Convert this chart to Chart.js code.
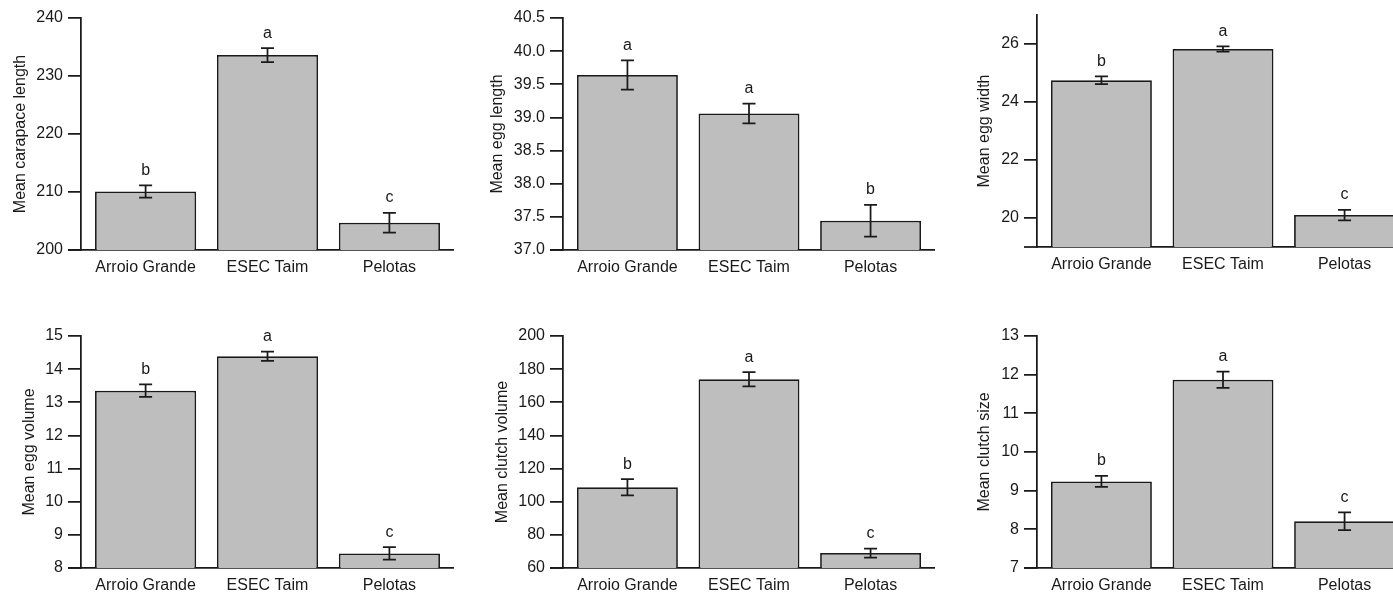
<!DOCTYPE html>
<html>
<head>
<meta charset="utf-8">
<script src="https://cdn.jsdelivr.net/npm/chart.js@4.4.1/dist/chart.umd.min.js"></script>
<style>
  html, body { margin: 0; padding: 0; background: #fff; overflow: hidden; width: 1393px; height: 596px; }
  canvas { position: absolute; }
</style>
</head>
<body>
<canvas id="c0"></canvas>
<canvas id="c1"></canvas>
<canvas id="c2"></canvas>
<canvas id="c3"></canvas>
<canvas id="c4"></canvas>
<canvas id="c5"></canvas>
<script>
// sites on the x axis
var sites = ["Arroio Grande", "ESEC Taim", "Pelotas"];

// mean, standard error, letters, y ticks for each panel
var carapaceMean = [210.1, 233.6, 204.7];
var carapaceSE = [1.05, 1.2, 1.7];
var carapaceLetters = ["b", "a", "c"];
var carapaceTicks = [200, 210, 220, 230, 240];

var eggLengthMean = [39.64, 39.06, 37.44];
var eggLengthSE = [0.22, 0.15, 0.24];
var eggLengthLetters = ["a", "a", "b"];
var eggLengthTicks = [37.0, 37.5, 38.0, 38.5, 39.0, 39.5, 40.0, 40.5];

var eggWidthMean = [24.75, 25.83, 20.1];
var eggWidthSE = [0.13, 0.09, 0.18];
var eggWidthLetters = ["b", "a", "c"];
var eggWidthTicks = [20, 22, 24, 26];

var eggVolumeMean = [13.35, 14.39, 8.44];
var eggVolumeSE = [0.19, 0.14, 0.19];
var eggVolumeLetters = ["b", "a", "c"];
var eggVolumeTicks = [8, 9, 10, 11, 12, 13, 14, 15];

var clutchVolumeMean = [108.7, 173.9, 69.0];
var clutchVolumeSE = [4.9, 4.3, 2.7];
var clutchVolumeLetters = ["b", "a", "c"];
var clutchVolumeTicks = [60, 80, 100, 120, 140, 160, 180, 200];

var clutchSizeMean = [9.24, 11.87, 8.21];
var clutchSizeSE = [0.14, 0.21, 0.23];
var clutchSizeLetters = ["b", "a", "c"];
var clutchSizeTicks = [7, 8, 9, 10, 11, 12, 13];

var panels = [
  { title: "Mean carapace length", mean: carapaceMean, se: carapaceSE, letters: carapaceLetters, ticks: carapaceTicks, min: 200, max: 240, dec: 0 },
  { title: "Mean egg length", mean: eggLengthMean, se: eggLengthSE, letters: eggLengthLetters, ticks: eggLengthTicks, min: 37, max: 40.5, dec: 1 },
  { title: "Mean egg width", mean: eggWidthMean, se: eggWidthSE, letters: eggWidthLetters, ticks: eggWidthTicks, min: 19, max: 27, dec: 0 },
  { title: "Mean egg volume", mean: eggVolumeMean, se: eggVolumeSE, letters: eggVolumeLetters, ticks: eggVolumeTicks, min: 8, max: 15, dec: 0 },
  { title: "Mean clutch volume", mean: clutchVolumeMean, se: clutchVolumeSE, letters: clutchVolumeLetters, ticks: clutchVolumeTicks, min: 60, max: 200, dec: 0 },
  { title: "Mean clutch size", mean: clutchSizeMean, se: clutchSizeSE, letters: clutchSizeLetters, ticks: clutchSizeTicks, min: 7, max: 13, dec: 0 }
];

// where each panel sits on the page
var boxes = [
  { left: 0,   top: 0,   w: 454, h: 298, axisW: 81,  titlePad: 11, padTop: 18 },
  { left: 460, top: 0,   w: 475, h: 298, axisW: 103, titlePad: 28, padTop: 18 },
  { left: 930, top: -3,  w: 479, h: 298, axisW: 107, titlePad: 45, padTop: 18 },
  { left: 0,   top: 298, w: 454, h: 318, axisW: 81,  titlePad: 20, padTop: 38 },
  { left: 460, top: 298, w: 475, h: 318, axisW: 103, titlePad: 33, padTop: 38 },
  { left: 930, top: 298, w: 479, h: 318, axisW: 107, titlePad: 45, padTop: 38 }
];

var ink = "#1a1a1a";
var lw = 1.75;
var font = { family: "'Liberation Sans', Arial, sans-serif", size: 16 };
Chart.defaults.font.family = font.family;
Chart.defaults.color = ink;

var errorBars = {
  id: "errorBars",
  afterDatasetsDraw: function (chart) {
    var ctx = chart.ctx;
    var y = chart.scales.y;
    var ds = chart.data.datasets[0];
    var area = chart.chartArea;
    ctx.save();
    ctx.strokeStyle = ink;
    ctx.lineWidth = lw;
    // baseline runs a little left of the y axis
    ctx.beginPath();
    ctx.moveTo(area.left - 13, area.bottom);
    ctx.lineTo(area.left, area.bottom);
    ctx.stroke();
    ctx.fillStyle = ink;
    ctx.font = font.size + "px " + font.family;
    ctx.textAlign = "center";
    ctx.textBaseline = "middle";
    chart.getDatasetMeta(0).data.forEach(function (bar, i) {
      var m = ds.data[i].y, e = ds.se[i];
      var top = y.getPixelForValue(m + e);
      var bot = y.getPixelForValue(m - e);
      ctx.beginPath();
      ctx.moveTo(bar.x, top); ctx.lineTo(bar.x, bot);
      ctx.moveTo(bar.x - 6.5, top); ctx.lineTo(bar.x + 6.5, top);
      ctx.moveTo(bar.x - 6.5, bot); ctx.lineTo(bar.x + 6.5, bot);
      ctx.stroke();
      ctx.fillText(ds.letters[i], bar.x, top - 15);
    });
    ctx.restore();
  }
};

panels.forEach(function (p, k) {
  var b = boxes[k];
  var cv = document.getElementById("c" + k);
  cv.width = b.w;
  cv.height = b.h;
  cv.style.left = b.left + "px";
  cv.style.top = b.top + "px";

  new Chart(cv, {
    type: "bar",
    data: {
      datasets: [{
        data: p.mean.map(function (v, i) { return { x: i, y: v }; }),
        se: p.se,
        letters: p.letters,
        backgroundColor: "#bebebe",
        borderColor: ink,
        borderWidth: lw,
        borderSkipped: "start",
        categoryPercentage: 1,
        barPercentage: 0.83
      }]
    },
    options: {
      responsive: false,
      animation: false,
      layout: { padding: { top: b.padTop, left: 0, right: 0, bottom: 0 } },
      plugins: { legend: { display: false }, tooltip: { enabled: false } },
      scales: {
        x: {
          type: "linear",
          offset: false,
          min: -0.53,
          max: 2.53,
          grid: { display: false, drawTicks: false },
          border: { display: true, color: ink, width: lw },
          afterBuildTicks: function (s) { s.ticks = sites.map(function (n, i) { return { value: i }; }); },
          afterFit: function (s) { s.height = 48; },
          ticks: {
            font: font,
            color: ink,
            padding: 8,
            maxRotation: 0,
            autoSkip: false,
            callback: function (v) { return sites[v]; }
          }
        },
        y: {
          min: p.min,
          max: p.max,
          beginAtZero: false,
          grid: { display: true, drawOnChartArea: false, drawTicks: true, tickLength: 13, color: ink, lineWidth: lw },
          border: { display: true, color: ink, width: lw },
          afterBuildTicks: function (s) { s.ticks = p.ticks.map(function (v) { return { value: v }; }); },
          afterFit: function (s) { s.width = b.axisW; },
          ticks: {
            font: font,
            color: ink,
            padding: 5,
            callback: function (v) { return v.toFixed(p.dec); }
          },
          title: {
            display: true,
            text: p.title,
            font: font,
            color: ink,
            padding: { top: b.titlePad, bottom: 0 }
          }
        }
      }
    },
    plugins: [errorBars]
  });
});
</script>
</body>
</html>
